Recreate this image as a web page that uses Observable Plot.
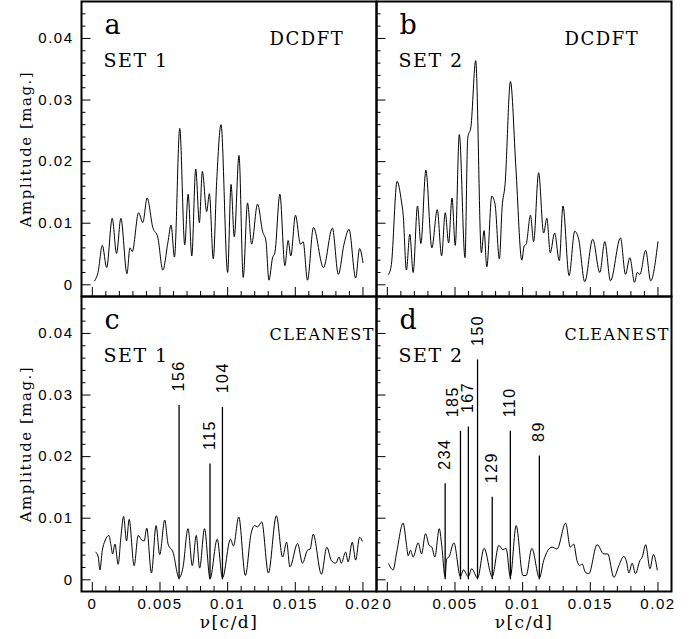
<!DOCTYPE html>
<html><head><meta charset="utf-8">
<script src="https://cdn.jsdelivr.net/npm/d3@7"></script>
<script src="https://cdn.jsdelivr.net/npm/@observablehq/plot@0.6"></script>
<style>body{margin:0;background:#fff}</style>
</head><body><div id="chart"></div>
<script>
// Panel a: SET 1, DCDFT
const nuA = [0.00017,0.00042,0.00074,0.00106,0.00147,0.00179,0.00211,0.00256,0.00278,0.00295,0.00342,0.00373,0.00405,0.00447,0.00484,0.00521,0.00558,0.00582,0.00607,0.00646,0.00683,0.00708,0.00735,0.00764,0.00791,0.00813,0.00845,0.00865,0.00894,0.00919,0.00951,0.01,0.01025,0.01049,0.01084,0.01115,0.01147,0.01177,0.01221,0.01258,0.01283,0.01305,0.01332,0.01349,0.01386,0.01423,0.01447,0.01467,0.01501,0.01538,0.01558,0.0159,0.01634,0.01708,0.01774,0.01818,0.0186,0.01897,0.01946,0.01975,0.02];
const ampA = [0.00065,0.002,0.0064,0.0028,0.0108,0.0051,0.0108,0.0018,0.006,0.0054,0.0117,0.0101,0.0141,0.0093,0.0077,0.0024,0.0068,0.0097,0.0045,0.0254,0.0065,0.0147,0.0047,0.0188,0.0101,0.0184,0.0119,0.0148,0.0042,0.0168,0.026,0.002,0.0163,0.0078,0.021,0.0012,0.0133,0.0066,0.0131,0.0087,0.0071,0.00075,0.0044,0.0052,0.0147,0.0031,0.0072,0.0047,0.0113,0.0066,0.007,0.00075,0.0093,0.0028,0.0092,0.0017,0.0066,0.009,0.0011,0.0059,0.0036];
// Panel b: SET 2, DCDFT
const nuB = [0.0001,0.0003,0.00072,0.00104,0.00117,0.00141,0.00166,0.00191,0.00223,0.00248,0.00285,0.00329,0.00369,0.00401,0.00428,0.00453,0.00478,0.00502,0.00532,0.00574,0.00594,0.00618,0.00653,0.00695,0.00715,0.00735,0.00772,0.00796,0.00828,0.00848,0.0087,0.0091,0.0095,0.00994,0.01011,0.01026,0.01058,0.01081,0.01118,0.01155,0.01179,0.01204,0.01236,0.01271,0.01298,0.01343,0.01385,0.01414,0.01459,0.01518,0.0157,0.01607,0.01649,0.01723,0.0176,0.01792,0.01827,0.01847,0.01867,0.01909,0.01946,0.02];
const ampB = [0.0017,0.0033,0.0168,0.0136,0.0114,0.0024,0.0082,0.002,0.0128,0.0067,0.0186,0.006,0.0122,0.0047,0.0117,0.0068,0.0141,0.0064,0.0244,0.0044,0.0238,0.0257,0.0364,0.0052,0.0088,0.0029,0.0144,0.0131,0.0042,0.0125,0.0163,0.033,0.019,0.004,0.0063,0.0066,0.0113,0.007,0.0182,0.0084,0.0108,0.0052,0.0084,0.0039,0.0128,0.0015,0.0087,0.0074,0.0005,0.0074,0.002,0.007,0.00065,0.0076,0.0017,0.0044,0.0004,0.002,0.0017,0.0056,0.00065,0.007];
// Panel c: SET 1, CLEANEST residual
const nuC = [0.00025,0.00044,0.00056,0.00074,0.00093,0.00123,0.00137,0.0015,0.00167,0.00191,0.00211,0.00231,0.00253,0.00272,0.00309,0.00339,0.00363,0.00383,0.00402,0.00437,0.00471,0.00498,0.00535,0.0056,0.00596,0.00641,0.0067,0.00707,0.00739,0.00768,0.00793,0.00829,0.0087,0.00923,0.00962,0.01021,0.01043,0.01082,0.01131,0.01173,0.01198,0.01222,0.01252,0.01301,0.0136,0.01406,0.01436,0.0146,0.01517,0.01553,0.0159,0.0161,0.01632,0.01693,0.01733,0.01767,0.01799,0.01823,0.0184,0.01872,0.0189,0.01921,0.01946,0.01975,0.01995];
const ampC = [0.0045,0.0037,0.0016,0.0048,0.0063,0.0072,0.0057,0.0042,0.0058,0.0025,0.0069,0.0103,0.0063,0.0098,0.0023,0.0072,0.0065,0.0063,0.0084,0.0011,0.0088,0.0041,0.0097,0.0058,0.0045,0.0003,0.002,0.0083,0.0023,0.0072,0.0019,0.0083,0.0002,0.0066,0.0003,0.0066,0.0055,0.0102,0.0007,0.0075,0.0088,0.0086,0.0094,0.0011,0.0104,0.0037,0.0061,0.0021,0.0059,0.0027,0.0048,0.005,0.0074,0.0009,0.0053,0.0031,0.0027,0.0037,0.0027,0.0045,0.0029,0.0061,0.0032,0.0069,0.0063];
// Panel d: SET 2, CLEANEST residual
const nuD = [0.0001,0.00043,0.00067,0.00117,0.00141,0.00154,0.00171,0.00191,0.00228,0.00253,0.00282,0.00309,0.00329,0.00351,0.00384,0.00401,0.00427,0.00438,0.00455,0.00492,0.0054,0.00562,0.00599,0.00623,0.00667,0.00715,0.00775,0.00824,0.00853,0.00878,0.00909,0.00952,0.01002,0.01026,0.01068,0.01124,0.01155,0.01217,0.01254,0.01318,0.01352,0.01377,0.01402,0.01422,0.01439,0.01464,0.01489,0.0155,0.016,0.01629,0.01674,0.01711,0.01748,0.01768,0.01785,0.01809,0.01834,0.01866,0.01884,0.01909,0.01941,0.01966,0.01995];
const ampD = [0.0026,0.0016,0.0042,0.0092,0.0058,0.0039,0.0048,0.0037,0.006,0.0042,0.0075,0.0056,0.0053,0.0037,0.0083,0.0058,0.0005,0.0034,0.0037,0.006,0.0005,0.0016,0.0005,0.0018,0.0003,0.0051,0.0005,0.0056,0.0049,0.0051,0.0005,0.0088,0.0007,0.0007,0.0051,0.0003,0.0031,0.0053,0.005,0.0092,0.0053,0.0058,0.0031,0.0023,0.0026,0.0012,0.001,0.0057,0.0042,0.0042,0.0004,0.0023,0.0038,0.0029,0.0011,0.0027,0.001,0.0031,0.0037,0.0057,0.0018,0.0041,0.0016];

// CLEANEST peaks (periods in days, amplitudes in mag.)
const cleanPeriodsC = [156, 115, 104];
const cleanAmpC = [0.0283, 0.0188, 0.028];
const cleanPeriodsD = [234, 185, 167, 150, 129, 110, 89];
const cleanAmpD = [0.0156, 0.0241, 0.0248, 0.0357, 0.0134, 0.0241, 0.0201];

// panels
const panelSets = [1, 2, 1, 2];
const panelMethods = ["DCDFT", "DCDFT", "CLEANEST", "CLEANEST"];
const panelLetters = ["a", "b", "c", "d"];
const panelSetNames = ["SET 1", "SET 2", "SET 1", "SET 2"];

// ticks
const xMajor = [0, 0.005, 0.01, 0.015, 0.02];
const xMinor = [0.001,0.002,0.003,0.004,0.006,0.007,0.008,0.009,0.011,0.012,0.013,0.014,0.016,0.017,0.018,0.019];
const yMajor = [0, 0.01, 0.02, 0.03, 0.04];
const yMinor = [0.002,0.004,0.006,0.008,0.012,0.014,0.016,0.018,0.022,0.024,0.026,0.028,0.032,0.034,0.036,0.038,0.042,0.044];

const rows = (set, method, nu, amp) => nu.map((x, i) => ({set, method, nu: x, amp: amp[i]}));
const spectra = [
  ...rows(1, "DCDFT", nuA, ampA),
  ...rows(2, "DCDFT", nuB, ampB),
  ...rows(1, "CLEANEST", nuC, ampC),
  ...rows(2, "CLEANEST", nuD, ampD)
];
const clean = [
  ...cleanPeriodsC.map((p, i) => ({set: 1, method: "CLEANEST", period: p, nu: 1 / p, amp: cleanAmpC[i]})),
  ...cleanPeriodsD.map((p, i) => ({set: 2, method: "CLEANEST", period: p, nu: 1 / p, amp: cleanAmpD[i]}))
];
const panels = panelSets.map((s, i) => ({set: s, method: panelMethods[i], letter: panelLetters[i], name: panelSetNames[i]}));

const W = 692, H = 639, mL = 80, mR = 21, mT = 1, mB = 48;
const pW = (W - mL - mR) / 2, pH = (H - mT - mB) / 2;
const serif = "'DejaVu Serif', serif";
const fmt = d => d === 0 ? "0" : String(d);

const chart = Plot.plot({
  width: W, height: H,
  marginLeft: mL, marginRight: mR, marginTop: mT, marginBottom: mB,
  style: "font-family: 'Liberation Sans', sans-serif; font-size: 15px; letter-spacing: 1.5px; color: black; background: white;",
  x: {domain: [-0.0008, 0.021]},
  y: {domain: [-0.0019, 0.046]},
  fx: {domain: [1, 2], axis: null, padding: 0},
  fy: {domain: ["DCDFT", "CLEANEST"], axis: null, padding: 0},
  marks: [
    Plot.tickY(yMinor, {y: d => d, insetRight: pW - 5, stroke: "black", strokeWidth: 1}),
    Plot.tickY(yMajor, {y: d => d, insetRight: pW - 10, stroke: "black", strokeWidth: 1}),
    Plot.tickX(xMinor, {x: d => d, insetTop: pH - 5, stroke: "black", strokeWidth: 1}),
    Plot.tickX(xMajor, {x: d => d, insetTop: pH - 9, stroke: "black", strokeWidth: 1}),
    Plot.axisY({ticks: yMajor, tickSize: 0, tickPadding: 8, tickFormat: fmt, label: null, fontSize: 15}),
    Plot.axisX({ticks: xMajor, tickSize: 0, tickPadding: 7, tickFormat: fmt, label: null, fontSize: 15}),
    Plot.line(spectra, {fx: "set", fy: "method", x: "nu", y: "amp", stroke: "black", strokeWidth: 1, curve: "monotone-x"}),
    Plot.ruleX(clean, {fx: "set", fy: "method", x: "nu", y1: 0, y2: "amp", stroke: "black", strokeWidth: 1.3}),
    Plot.text(clean.filter(d => d.period !== 185), {fx: "set", fy: "method", x: "nu", y: "amp", text: d => String(d.period), rotate: -90, textAnchor: "start", lineAnchor: "middle", dy: -14, fontSize: 16}),
    Plot.text(clean.filter(d => d.period === 185), {fx: "set", fy: "method", x: "nu", y: "amp", text: d => String(d.period), rotate: -90, textAnchor: "start", lineAnchor: "middle", dy: -14, dx: -8, fontSize: 16}),
    Plot.text(panels, {fx: "set", fy: "method", frameAnchor: "top-left", text: "letter", dx: 23, dy: 32, lineAnchor: "bottom", textAnchor: "start", fontFamily: serif, fontSize: 27, ariaLabel: "panel-letter"}),
    Plot.text(panels, {fx: "set", fy: "method", frameAnchor: "top-left", text: "name", dx: 22, dy: 65, lineAnchor: "bottom", textAnchor: "start", fontFamily: serif, fontSize: 19, ariaLabel: "set-name"}),
    Plot.text(panels.filter(d => d.method === "DCDFT"), {fx: "set", fy: "method", frameAnchor: "top-left", text: "method", dx: 188, dy: 43, lineAnchor: "bottom", textAnchor: "start", fontFamily: serif, fontSize: 18, ariaLabel: "method-dcdft"}),
    Plot.text(panels.filter(d => d.method === "CLEANEST"), {fx: "set", fy: "method", frameAnchor: "top-left", text: "method", dx: 188, dy: 43, lineAnchor: "bottom", textAnchor: "start", fontFamily: serif, fontSize: 16, ariaLabel: "method-clean"}),
    Plot.text(panels.filter(d => d.set === 1), {fx: "set", fy: "method", frameAnchor: "left", text: () => "Amplitude [mag.]", rotate: -90, dx: -55, textAnchor: "middle", lineAnchor: "middle", fontFamily: serif, fontSize: 15, ariaLabel: "y-label"}),
    Plot.text(panels.filter(d => d.method === "CLEANEST"), {fx: "set", fy: "method", frameAnchor: "bottom", text: () => "ν[c/d]", dy: 31, textAnchor: "middle", lineAnchor: "middle", fontFamily: serif, fontSize: 17, ariaLabel: "x-label"}),
    Plot.frame({stroke: "black", strokeWidth: 2})
  ]
});

const sel = d3.select(chart);
sel.selectAll('g[aria-label="panel-letter"]').style("letter-spacing", "0px");
sel.selectAll('g[aria-label="set-name"]').style("letter-spacing", "1.5px");
sel.selectAll('g[aria-label="method-dcdft"]').style("letter-spacing", "2px");
sel.selectAll('g[aria-label="method-clean"]').style("letter-spacing", "-0.9px");
sel.selectAll('g[aria-label="y-label"]').style("letter-spacing", "1.6px");
sel.selectAll('g[aria-label="x-label"]').style("letter-spacing", "0.5px");
sel.selectAll('g[aria-label="x-label"] text').each(function() {
  const t = d3.select(this);
  t.text(null);
  t.append("tspan").attr("font-style", "italic").text("ν");
  t.append("tspan").text("[c/d]");
});
document.getElementById("chart").appendChild(chart);
</script>
</body></html>
